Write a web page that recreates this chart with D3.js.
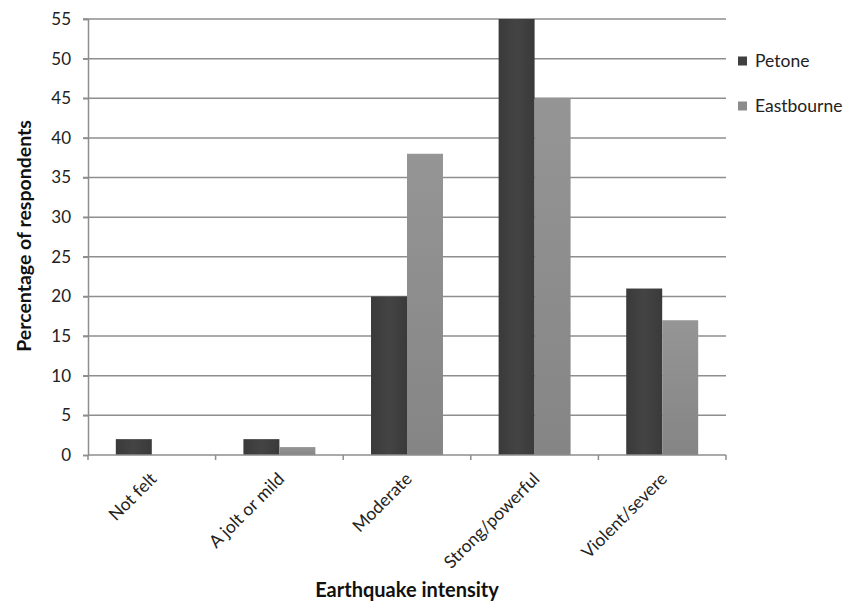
<!DOCTYPE html>
<html><head><meta charset="utf-8">
<script src="https://cdn.jsdelivr.net/npm/d3@7"></script>
<style>body{margin:0;background:#fff}svg{display:block;font-family:Lato,"Open Sans",sans-serif}</style>
</head><body><svg id="c" width="856" height="607"></svg>
<script>
const categories = ["Not felt","A jolt or mild","Moderate","Strong/powerful","Violent/severe"];
const seriesNames = ["Petone","Eastbourne"];
const petone = [2,2,20,55,21];
const eastbourne = [0,1,38,45,17];
const yTicks = [0,5,10,15,20,25,30,35,40,45,50,55];
const colors = ["#404040","#8c8c8c"];

const svg = d3.select("#c");
const L=88,R=726,T=19,B=455;
const x0 = d3.scaleBand().domain(categories).range([L,R]).paddingInner(0.436).paddingOuter(0.218);
const x1 = d3.scaleBand().domain(seriesNames).range([0,x0.bandwidth()]);
const y = d3.scaleLinear().domain([0,55]).range([B,T]);

const defs = svg.append("defs");
const g0 = defs.append("linearGradient").attr("id","g0").attr("x1",0).attr("x2",1).attr("y1",0).attr("y2",0);
g0.append("stop").attr("offset",0).attr("stop-color","#3a3a3a");
g0.append("stop").attr("offset",0.5).attr("stop-color","#444");
g0.append("stop").attr("offset",1).attr("stop-color","#3a3a3a");
const g1 = defs.append("linearGradient").attr("id","g1").attr("x1",0).attr("x2",0).attr("y1",0).attr("y2",1);
g1.append("stop").attr("offset",0).attr("stop-color","#959595");
g1.append("stop").attr("offset",1).attr("stop-color","#858585");
const fills=["url(#g0)","url(#g1)"];

// gridlines
svg.append("g").selectAll("line").data(yTicks.filter(d=>d>0)).join("line")
  .attr("x1",L-5).attr("x2",R).attr("y1",d=>y(d)).attr("y2",d=>y(d))
  .attr("stroke","#8e8e8e").attr("stroke-width",1.5);

// y axis
const ya = svg.append("g").attr("transform",`translate(${L},0)`)
  .call(d3.axisLeft(y).tickValues(yTicks).tickSize(5).tickPadding(12));
ya.select(".domain").attr("stroke","#8e8e8e").attr("stroke-width",1.5);
ya.selectAll(".tick line").attr("stroke","#8e8e8e").attr("stroke-width",1.5);
ya.selectAll("text").attr("font-size",17).attr("fill","#222").attr("font-family","Lato");

// bars
const data = categories.map((c,i)=>({c, vals:[petone[i],eastbourne[i]]}));
svg.append("g").selectAll("g").data(data).join("g")
  .attr("transform",d=>`translate(${x0(d.c)},0)`)
  .selectAll("rect").data(d=>d.vals.map((v,j)=>({v,j}))).join("rect")
  .attr("x",d=>x1(seriesNames[d.j])).attr("width",x1.bandwidth())
  .attr("y",d=>y(d.v)).attr("height",d=>B-y(d.v))
  .attr("fill",d=>fills[d.j]);

// x axis
const xTickPos = categories.map((_,i)=>L+i*x0.step()).concat([R]);
const xa = svg.append("g");
xa.append("line").attr("x1",L).attr("x2",R).attr("y1",B).attr("y2",B).attr("stroke","#8e8e8e").attr("stroke-width",1.5);
xa.selectAll("line.t").data(xTickPos).join("line").attr("class","t")
  .attr("x1",d=>d).attr("x2",d=>d).attr("y1",B).attr("y2",B+5).attr("stroke","#8e8e8e").attr("stroke-width",1.5);
xa.selectAll("text").data(categories).join("text")
  .attr("transform",d=>`translate(${x0(d)+x0.bandwidth()/2+6},${B+25}) rotate(-45)`)
  .attr("text-anchor","end").attr("font-size",17.5).attr("fill","#222").text(d=>d);

// axis titles
svg.append("text").attr("x",407).attr("y",597).attr("text-anchor","middle")
  .attr("font-weight","bold").attr("font-size",20).attr("fill","#111").text("Earthquake intensity");
svg.append("text").attr("transform","translate(31,236) rotate(-90)").attr("text-anchor","middle")
  .attr("font-weight","bold").attr("font-size",19.5).attr("fill","#111").text("Percentage of respondents");

// legend
const lg = svg.append("g").selectAll("g").data(seriesNames).join("g")
  .attr("transform",(d,i)=>`translate(738,${61+i*45})`);
lg.append("rect").attr("x",0).attr("y",-4.5).attr("width",9).attr("height",9).attr("fill",(d,i)=>colors[i]);
lg.append("text").attr("x",17).attr("dy","0.35em").attr("font-size",17.5).attr("fill","#222").text(d=>d);
</script></body></html>
